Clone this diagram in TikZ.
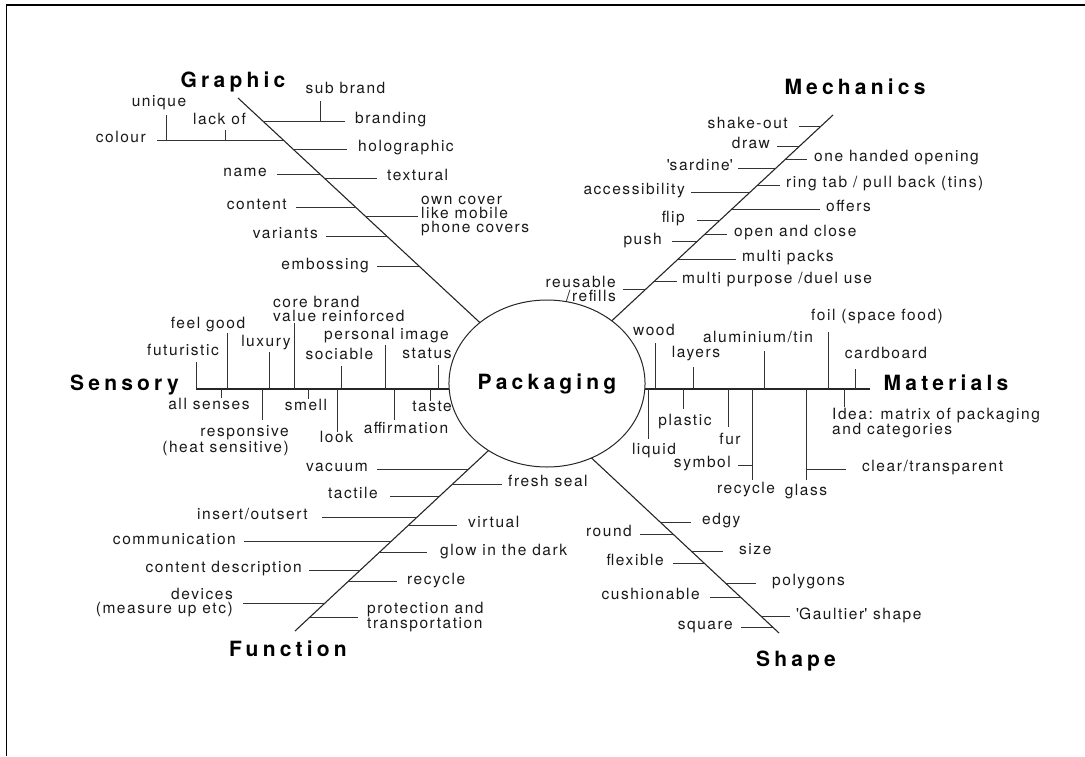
\documentclass[tikz,border=0pt]{standalone}
\usepackage{fontspec}
\setmainfont{TeX Gyre Heros}
\newfontfamily\labelfont{TeX Gyre Heros}[LetterSpace=10]
\newfontfamily\headfont{TeX Gyre Heros}[LetterSpace=20]
\usetikzlibrary{calc,shapes.geometric}

% a diagonal spine #1 running from (#2,#3) to (#4,#5)
\newcommand\defspine[5]{%
  \expandafter\def\csname #1xa\endcsname{#2}%
  \expandafter\def\csname #1ya\endcsname{#3}%
  \expandafter\def\csname #1xb\endcsname{#4}%
  \expandafter\def\csname #1yb\endcsname{#5}}
% point on spine #1 at height #3, stored as coordinate #2
\newcommand\spinept[3]{%
  \pgfmathsetmacro\ribt{(#3-\csname #1ya\endcsname)/(\csname #1yb\endcsname-\csname #1ya\endcsname)}%
  \pgfmathsetmacro\ribx{\csname #1xa\endcsname+\ribt*(\csname #1xb\endcsname-\csname #1xa\endcsname)}%
  \coordinate (#2) at (\ribx,#3);}
% horizontal rib ending left of the spine, label to its left
\newcommand\ribL[7][mid east]{%
  \spinept{#2}{#3s}{#4}
  \coordinate (#3e) at (#5,#4);
  \draw[rib] (#3e) -- (#3s);
  \node[lbl,align=right,anchor=#1] (#3) at (#6,#4) {#7};}
% horizontal rib ending right of the spine, label to its right
\newcommand\ribR[7][mid west]{%
  \spinept{#2}{#3s}{#4}
  \coordinate (#3e) at (#5,#4);
  \draw[rib] (#3s) -- (#3e);
  \node[lbl,align=left,anchor=#1] (#3) at (#6,#4) {#7};}
% vertical rib on the horizontal spine
\newcommand\ribV[6]{%
  \coordinate (#1s) at (#2,389);
  \coordinate (#1e) at (#2,#3);
  \draw[rib] (#1s) -- (#1e);
  \node[lbl,anchor=mid] (#1) at (#4,#5) {#6};}

\defspine{G}{238}{98}{482.5}{325}
\defspine{M}{833}{115}{610.5}{322}
\defspine{F}{295}{631}{488}{451}
\defspine{S}{779}{633}{591.5}{458}

\begin{document}
\begin{tikzpicture}[x=1pt,y=-1pt,
  spine/.style={line width=1.1pt, draw=black!85},
  rib/.style={line width=0.9pt, draw=black!80},
  lbl/.style={font=\labelfont\fontsize{15.5}{14}\selectfont, inner sep=0pt, text=black!90},
  head/.style={font=\headfont\bfseries\fontsize{21}{24}\selectfont, inner sep=0pt, anchor=base, text=black},
  hub/.style={ellipse, draw=black!85, line width=1pt, fill=white, minimum width=180pt,
    minimum height=167pt, inner sep=0pt, font=\headfont\bfseries\fontsize{21}{24}\selectfont}]
\useasboundingbox (0,0) rectangle (1085,756);

% frame
\draw[line width=1.5pt] (6.5,756) -- (6.5,5) -- (1085,5);

% spine ends
\coordinate (Ga) at (238,98);    \coordinate (Gb) at (482.5,325);
\coordinate (Ma) at (833,115);   \coordinate (Mb) at (610.5,322);
\coordinate (Fa) at (295,631);   \coordinate (Fb) at (488,451);
\coordinate (Sa) at (779,633);   \coordinate (Sb) at (591.5,458);
\coordinate (Ea) at (196,389);   \coordinate (Eb) at (547,389);
\coordinate (Wa) at (870,389);   \coordinate (Wb) at (547,389);

% spines, running under the hub
\draw[spine] (Ga) -- ($(Ga)!1.1!(Gb)$);
\draw[spine] (Ma) -- ($(Ma)!1.1!(Mb)$);
\draw[spine] (Fa) -- ($(Fa)!1.1!(Fb)$);
\draw[spine] (Sa) -- ($(Sa)!1.1!(Sb)$);
\draw[spine] (Ea) -- (Eb);
\draw[spine] (Wa) -- (Wb);

\node[hub] (hub) at (547,383.5) {Packaging};

% headings
\node[head] (hgra) at (233,87) {Graphic};
\node[head] (hmec) at (855,94) {Mechanics};
\node[head] (hsen) at (124.5,390) {Sensory};
\node[head] (hmat) at (946,390) {Materials};
\node[head] (hfun) at (288,656) {Function};
\node[head] (hsha) at (796,666) {Shape};

% Graphic
\ribL{G}{gcol}{140}{157}{146}{colour}
\coordinate (guniS) at (166,140); \coordinate (guniE) at (166,115);
\draw[rib] (guniS) -- (guniE);
\node[lbl,anchor=mid] (guni) at (159,104) {unique};
\coordinate (glacS) at (225,140); \coordinate (glacE) at (225,130);
\draw[rib] (glacS) -- (glacE);
\node[lbl,anchor=mid] (glac) at (219.5,122) {lack of};
\ribL{G}{gnam}{174}{277}{267}{name}
\ribL{G}{gcon}{207}{296}{287}{content}
\ribL{G}{gvar}{236}{326}{318}{variants}
\ribL{G}{gemb}{266.5}{377}{369}{embossing}
\ribR{G}{gbra}{121}{345}{355}{branding}
\coordinate (gsubS) at (320,121); \coordinate (gsubE) at (320,101);
\draw[rib] (gsubS) -- (gsubE);
\node[lbl,anchor=mid] (gsub) at (345.5,91) {sub brand};
\ribR{G}{ghol}{149}{347}{358}{holographic}
\ribR{G}{gtex}{178}{377}{387}{textural}
\ribR[west]{G}{gown}{216}{418}{421}{own cover\\like mobile\\phone covers}

% Mechanics
\ribL{M}{mshk}{126}{799}{788}{shake-out}
\ribL{M}{mdrw}{146}{777}{770}{draw}
\ribL{M}{msar}{168}{738}{733}{\textquotesingle sardine\textquotesingle}
\ribL{M}{macc}{192}{691}{685}{accessibility}
\ribL{M}{mflp}{220}{697}{685}{flip}
\ribL{M}{mpsh}{241.5}{672}{662}{push}
\ribL[east]{M}{mreu}{289}{623}{616}{reusable\\/refills}
\ribR{M}{mone}{159}{807}{814}{one handed opening}
\ribR{M}{mrng}{185}{780}{786}{ring tab / pull back (tins)}
\ribR{M}{moff}{209}{820}{826}{offers}
\ribR{M}{mopn}{234}{727}{734}{open and close}
\ribR{M}{mmpk}{259}{736}{742}{multi packs}
\ribR{M}{mmpu}{281}{677}{682}{multi purpose /duel use}

% Function
\ribL{F}{fvac}{469}{377}{368}{vacuum}
\ribL{F}{ftac}{496}{390}{378}{tactile}
\ribL{F}{fins}{517}{322}{308}{insert/outsert}
\ribL{F}{fcom}{541.5}{244}{236}{communication}
\ribL{F}{fcnt}{570}{309}{302}{content description}
\ribL[east]{F}{fdev}{603}{243}{233}{devices\\(measure up etc)}
\ribR{F}{ffre}{484}{502}{508}{fresh seal}
\ribR{F}{fvir}{525}{457}{468}{virtual}
\ribR{F}{fglo}{552.5}{427}{440}{glow in the dark}
\ribR{F}{frec}{581.5}{397}{407}{recycle}
\ribR[west]{F}{fpro}{617}{358}{367}{protection and\\transportation}

% Shape
\ribL{S}{shrnd}{534}{640}{632}{round}
\ribL{S}{shflx}{563}{673}{664}{flexible}
\ribL{S}{shcus}{597}{710}{700}{cushionable}
\ribL{S}{shsqr}{627}{741}{733}{square}
\ribR{S}{shedg}{522}{691}{702}{edgy}
\ribR{S}{shsiz}{551.5}{723}{739}{size}
\ribR{S}{shpol}{583}{756}{772}{polygons}
\ribR{S}{shgau}{616.5}{790}{796}{\textquotesingle Gaultier\textquotesingle{} shape}

% Sensory
\ribV{sfut}{196}{362}{183}{353}{futuristic}
\ribV{sfee}{227}{333}{208}{326}{feel good}
\ribV{slux}{269}{352}{266}{344}{luxury}
\coordinate (scorS) at (294,389); \coordinate (scorE) at (294,323);
\draw[rib] (scorS) -- (scorE);
\node[lbl,anchor=west,align=left] (scor) at (273,309) {core brand\\value reinforced};
\ribV{ssoc}{341}{366}{339.5}{357}{sociable}
\ribV{sper}{385}{345}{386.5}{337}{personal image}
\ribV{ssta}{438}{365}{427}{356}{status}
\ribV{sall}{221}{398}{209}{407}{all senses}
\coordinate (sresS) at (262,389); \coordinate (sresE) at (262,420);
\draw[rib] (sresS) -- (sresE);
\node[lbl,anchor=east,align=right] (sres) at (289,440.5) {responsive\\(heat sensitive)};
\ribV{ssml}{308}{399}{306}{408}{smell}
\ribV{slok}{337}{432}{336.5}{440}{look}
\ribV{saff}{394}{420}{406}{431}{affirmation}
\ribV{stst}{430}{401}{432}{409}{taste}

% Materials
\ribV{tawod}{655}{343}{654}{333}{wood}
\ribV{talay}{693}{367}{696}{355}{layers}
\ribV{taalu}{764}{351}{758}{340}{aluminium/tin}
\ribV{tafoi}{828}{332}{877}{318}{foil (space food)}
\ribV{tacar}{855}{369}{886}{356}{cardboard}
\ribV{taliq}{648}{439}{654}{452}{liquid}
\ribV{tapla}{683}{409}{685}{423}{plastic}
\ribV{tafur}{728}{427}{730}{442}{fur}
\ribV{tarec}{752}{480}{746}{491}{recycle}
\coordinate (tasymS) at (752,465); \coordinate (tasymE) at (738,465);
\draw[rib] (tasymS) -- (tasymE);
\node[lbl,anchor=mid east] (tasym) at (731,465) {symbol};
\ribV{tagla}{806}{480}{806}{493}{glass}
\coordinate (taclrS) at (806,469); \coordinate (taclrE) at (846,469);
\draw[rib] (taclrS) -- (taclrE);
\node[lbl,anchor=mid west] (taclr) at (862,469) {clear/transparent};
\coordinate (taideS) at (844,389); \coordinate (taideE) at (844,407);
\draw[rib] (taideS) -- (taideE);
\node[lbl,anchor=west,align=left] (taide) at (832,423) {Idea: matrix of packaging\\and categories};
\end{tikzpicture}
\end{document}
